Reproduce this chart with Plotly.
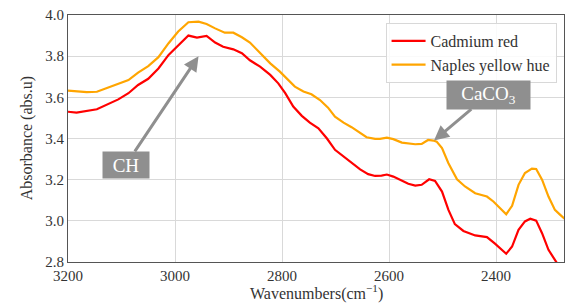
import plotly.graph_objects as go

wn_red = [3200, 3184, 3146, 3125, 3106, 3087, 3069, 3050, 3031, 3012, 2994, 2975, 2959, 2941,
          2925, 2910, 2891, 2875, 2860, 2841, 2822, 2807, 2794, 2779, 2763, 2748, 2732, 2716,
          2701, 2685, 2670, 2654, 2639, 2626, 2614, 2604, 2592, 2576, 2564, 2551, 2539, 2525,
          2514, 2501, 2489, 2477, 2461, 2439, 2417, 2402, 2392, 2381, 2370, 2358, 2346, 2336,
          2325, 2314, 2302, 2290, 2280, 2270]
abs_red = [3.53, 3.526, 3.542, 3.566, 3.59, 3.62, 3.66, 3.69, 3.74, 3.806, 3.854, 3.90, 3.89, 3.898,
           3.866, 3.846, 3.833, 3.814, 3.78, 3.749, 3.709, 3.668, 3.62, 3.555, 3.51, 3.477, 3.45, 3.40,
           3.345, 3.312, 3.283, 3.25, 3.227, 3.218, 3.22, 3.225, 3.215, 3.196, 3.18, 3.171, 3.175, 3.202,
           3.194, 3.142, 3.053, 2.984, 2.951, 2.929, 2.921, 2.889, 2.864, 2.84, 2.875, 2.956, 2.997, 3.01,
           3.001, 2.94, 2.859, 2.81, 2.77, 2.74]

wn_yellow = [3200, 3165, 3146, 3128, 3109, 3087, 3069, 3050, 3031, 3012, 2994, 2975, 2956, 2941,
             2925, 2907, 2891, 2875, 2860, 2841, 2822, 2804, 2791, 2776, 2760, 2745, 2729, 2714,
             2701, 2685, 2670, 2654, 2642, 2626, 2617, 2604, 2592, 2576, 2564, 2551, 2539, 2527,
             2517, 2511, 2501, 2489, 2473, 2458, 2439, 2417, 2405, 2392, 2381, 2370, 2358, 2346,
             2333, 2325, 2314, 2302, 2290, 2280, 2272]
abs_yellow = [3.633, 3.625, 3.627, 3.644, 3.66, 3.684, 3.72, 3.752, 3.795, 3.863, 3.92, 3.965, 3.968, 3.956,
              3.935, 3.914, 3.914, 3.892, 3.866, 3.814, 3.765, 3.725, 3.693, 3.652, 3.628, 3.615, 3.587, 3.55,
              3.506, 3.477, 3.455, 3.426, 3.406, 3.398, 3.398, 3.404, 3.397, 3.38, 3.377, 3.372, 3.374, 3.393,
              3.39, 3.385, 3.353, 3.28, 3.202, 3.167, 3.134, 3.118, 3.094, 3.062, 3.032, 3.073, 3.175, 3.232,
              3.254, 3.252, 3.20, 3.118, 3.053, 3.029, 3.01]

x_ticks = [3200, 3000, 2800, 2600, 2400]
y_ticks = [2.8, 3.0, 3.2, 3.4, 3.6, 3.8, 4.0]

FONT = "Liberation Serif"
TXT = "#333333"

fig = go.Figure()
fig.add_trace(go.Scatter(x=wn_red, y=abs_red, mode="lines", name="Cadmium red",
                         line=dict(color="#ff0000", width=2.2)))
fig.add_trace(go.Scatter(x=wn_yellow, y=abs_yellow, mode="lines", name="Naples yellow hue",
                         line=dict(color="#ffa500", width=2.2)))

ann_common = dict(xref="x", yref="y", axref="x", ayref="y", showarrow=True,
                  arrowhead=2, arrowsize=1, arrowwidth=3, arrowcolor="#8f8f8f",
                  bgcolor="#8f8f8f", borderpad=2,
                  font=dict(family=FONT, size=19, color="white"))
fig.add_annotation(text="CH", x=2956, y=3.8, ax=3092, ay=3.272, width=42, height=22, **ann_common)
fig.add_annotation(text="CaCO<sub>3</sub>", x=2516, y=3.39, ax=2414, ay=3.613, width=79, height=24,
                   **ann_common)

# axis titles
fig.add_annotation(text="Wavenumbers(cm<sup>−1</sup>)", xref="paper", yref="paper",
                   x=0.5, y=-0.125, xanchor="center", yanchor="middle", showarrow=False,
                   font=dict(family=FONT, size=16, color=TXT))
fig.add_annotation(text="Absorbance (abs.u)", xref="paper", yref="paper",
                   x=-0.083, y=0.5, xanchor="center", yanchor="middle", showarrow=False,
                   textangle=-90, font=dict(family=FONT, size=16, color=TXT))

fig.update_layout(
    width=567, height=300,
    margin=dict(l=60, r=11, t=7, b=46, autoexpand=False),
    paper_bgcolor="white", plot_bgcolor="white",
    font=dict(family=FONT, size=15, color=TXT),
    showlegend=True,
    legend=dict(x=0.985, y=0.968, xanchor="right", yanchor="top",
                bgcolor="rgba(255,255,255,0.85)", bordercolor="#d8d8d8", borderwidth=1,
                font=dict(family=FONT, size=16, color=TXT), tracegroupgap=4, itemwidth=34),
    xaxis=dict(range=[3200, 2273], tickvals=x_ticks, ticktext=[str(v) for v in x_ticks],
               tickfont=dict(family=FONT, size=15, color=TXT), ticklabeloverflow="allow",
               showgrid=True, gridcolor="#d9d9d9", gridwidth=1,
               showline=True, linecolor="#555", linewidth=1.2, mirror=True,
               ticks="", zeroline=False, automargin=False),
    yaxis=dict(range=[2.8, 4.0], tickvals=y_ticks, ticktext=[f"{v:.1f}" for v in y_ticks],
               tickfont=dict(family=FONT, size=15, color=TXT), ticklabeloverflow="allow",
               showgrid=True, gridcolor="#d9d9d9", gridwidth=1,
               showline=True, linecolor="#555", linewidth=1.2, mirror=True,
               ticks="", zeroline=False, automargin=False),
)

fig.write_html("out.html")
